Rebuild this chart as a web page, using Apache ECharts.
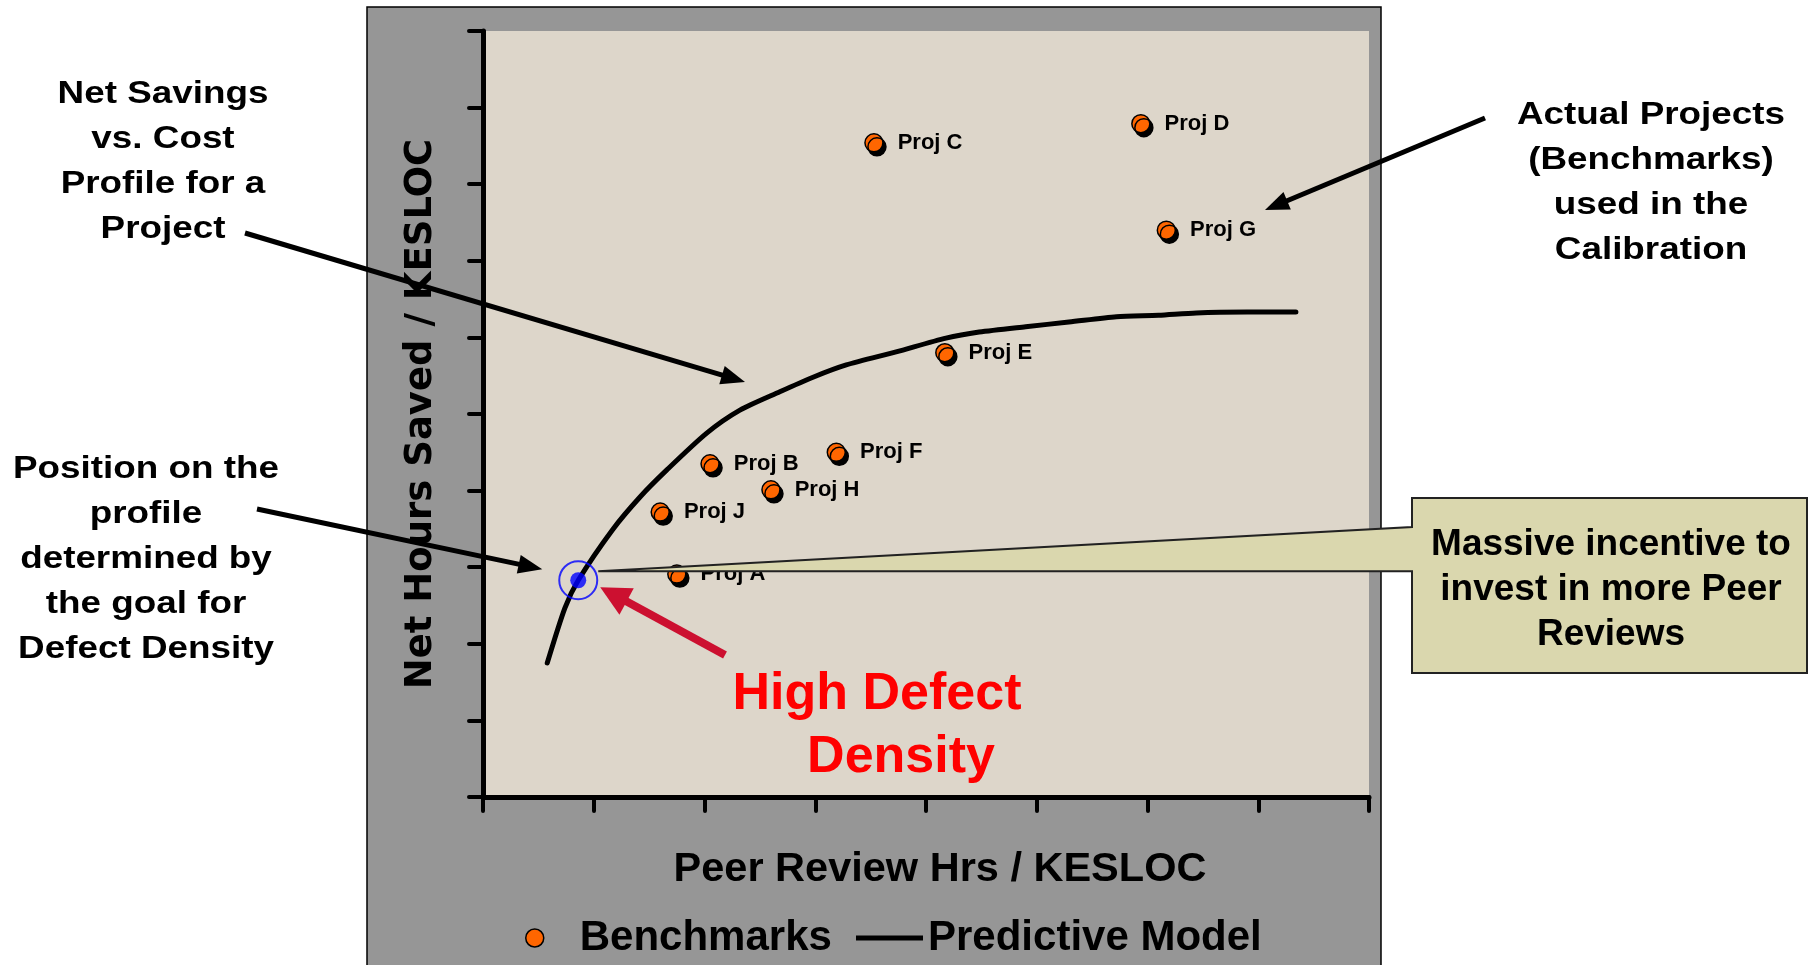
<!DOCTYPE html>
<html>
<head>
<meta charset="utf-8">
<title>Net Savings vs. Cost Profile</title>
<script src="https://cdn.jsdelivr.net/npm/echarts@6/dist/echarts.min.js"></script>
<style>
  html, body { margin: 0; padding: 0; background: #ffffff; }
  #chart { width: 1817px; height: 965px; }
</style>
</head>
<body>
<div id="chart"></div>
<script>
// Benchmark projects: peer review effort vs. net hours saved
const projectNames   = ['Proj A', 'Proj B', 'Proj C', 'Proj D', 'Proj E', 'Proj F', 'Proj G', 'Proj H', 'Proj J'];
const projectHours   = [1.75, 2.05, 3.53, 5.94, 4.17, 3.19, 6.17, 2.60, 1.60];
const projectSavings = [2.91, 4.35, 8.54, 8.79, 5.80, 4.50, 7.40, 4.01, 3.72];

// Predictive model curve
const modelHours   = [0.58, 0.74, 0.86, 1.17, 1.42, 1.66, 2.02, 2.32, 2.68, 2.98, 3.28, 3.73, 4.18, 4.48, 4.90, 5.29, 5.72, 6.10, 6.44, 6.90, 7.34];
const modelSavings = [1.75, 2.47, 2.83, 3.49, 3.92, 4.27, 4.75, 5.05, 5.29, 5.48, 5.64, 5.81, 5.99, 6.07, 6.14, 6.20, 6.27, 6.29, 6.32, 6.33, 6.33];

// Position on the profile set by the defect density goal
const goalPoint = [0.86, 2.83];

// Axis extents (unlabelled ticks)
const xRange = [0, 8, 1];
const yRange = [0, 10, 1];

const WIDE = 'DejaVu Sans';
const ARIAL = 'Liberation Sans';

const chart = echarts.init(document.getElementById('chart'), null, { renderer: 'canvas' });

const benchmarkData = projectNames.map((n, i) => ({ name: n, value: [projectHours[i], projectSavings[i]] }));
const modelData = modelHours.map((x, i) => [x, modelSavings[i]]);

const axisCommon = {
  type: 'value',
  axisLine: { show: true, onZero: false, lineStyle: { color: '#000', width: 5, cap: 'round' } },
  axisTick: { show: true, length: 14, lineStyle: { color: '#000', width: 4, cap: 'round' } },
  axisLabel: { show: false },
  splitLine: { show: false }
};

const legendText = { fontFamily: ARIAL, fontWeight: 'bold', fontSize: 42, color: '#000' };

chart.setOption({
  animation: false,
  backgroundColor: '#ffffff',
  grid: {
    left: 483, top: 31, right: 448, bottom: 168,
    show: true, backgroundColor: '#ddd6ca', borderWidth: 0
  },
  xAxis: Object.assign({}, axisCommon, {
    min: xRange[0], max: xRange[1], interval: xRange[2],
    name: 'Peer Review Hrs / KESLOC',
    nameLocation: 'middle',
    nameGap: 52,
    nameTextStyle: { fontFamily: ARIAL, fontWeight: 'bold', fontSize: 41.5, color: '#000', padding: [0, 0, 0, 28] }
  }),
  yAxis: Object.assign({}, axisCommon, {
    min: yRange[0], max: yRange[1], interval: yRange[2],
    name: 'Net Hours Saved / KESLOC',
    nameLocation: 'middle',
    nameGap: 43,
    nameTextStyle: { fontFamily: WIDE, fontWeight: 'bold', fontSize: 37, color: '#000' }
  }),
  legend: [
    {
      data: ['Benchmarks'],
      left: 520, top: 912,
      itemWidth: 80, itemHeight: 18,
      textStyle: legendText,
      itemStyle: { shadowColor: 'transparent', borderColor: '#000', borderWidth: 1.5 },
      selectedMode: false
    },
    {
      data: [{ name: 'Predictive Model', icon: 'rect' }],
      left: 851, top: 912,
      itemWidth: 67, itemHeight: 5,
      itemStyle: { color: '#000', borderWidth: 0 },
      textStyle: legendText,
      selectedMode: false
    }
  ],
  series: [
    {
      name: 'Predictive Model',
      type: 'line',
      data: modelData,
      symbol: 'none',
      showSymbol: false,
      smooth: 0.25,
      itemStyle: { color: '#000' },
      lineStyle: { color: '#000', width: 5, cap: 'round', join: 'round' },
      z: 3
    },
    {
      name: 'Benchmarks',
      type: 'scatter',
      data: benchmarkData,
      symbol: 'circle',
      symbolSize: 18,
      itemStyle: {
        color: '#ff6600', borderColor: '#000', borderWidth: 1.5,
        shadowColor: '#000', shadowBlur: 0, shadowOffsetX: 3, shadowOffsetY: 4, opacity: 1
      },
      label: {
        show: true, position: 'right', distance: 14,
        formatter: p => p.name,
        fontFamily: ARIAL, fontWeight: 'bold', fontSize: 22, color: '#000'
      },
      z: 4
    },
    {
      name: 'Goal ring',
      type: 'scatter',
      data: [goalPoint],
      symbol: 'circle',
      symbolSize: 38,
      itemStyle: { color: 'rgba(0,0,0,0)', borderColor: '#0000ff', borderWidth: 2 },
      z: 12
    },
    {
      name: 'Goal',
      type: 'scatter',
      data: [goalPoint],
      symbol: 'circle',
      symbolSize: 16,
      itemStyle: { color: '#0000ff' },
      z: 12
    }
  ]
});

// Straight arrow with a filled triangular head ending at (x2, y2)
function arrow(x1, y1, x2, y2, width, color, headLen, headW, z) {
  const dx = x2 - x1, dy = y2 - y1;
  const len = Math.sqrt(dx * dx + dy * dy);
  const ux = dx / len, uy = dy / len;
  const bx = x2 - ux * headLen, by = y2 - uy * headLen;
  const px = -uy * headW / 2, py = ux * headW / 2;
  return [
    {
      type: 'line', z: z, silent: true,
      shape: { x1: x1, y1: y1, x2: bx + ux * 2, y2: by + uy * 2 },
      style: { stroke: color, lineWidth: width, lineCap: 'butt' }
    },
    {
      type: 'polygon', z: z, silent: true,
      shape: { points: [[x2, y2], [bx + px, by + py], [bx - px, by - py]] },
      style: { fill: color }
    }
  ];
}

// Centred multi-line bold text, optionally stretched horizontally
function textBlock(text, x, y, size, color, lineHeight, stretch) {
  return {
    type: 'text', z: 20, silent: true,
    x: x, y: y, scaleX: stretch || 1,
    style: {
      text: text, x: 0, y: 0,
      fontFamily: ARIAL, fontWeight: 'bold', fontSize: size,
      fill: color, align: 'center', verticalAlign: 'middle',
      lineHeight: lineHeight
    }
  };
}

const goalPx = chart.convertToPixel({ gridIndex: 0 }, goalPoint);
const gx = goalPx[0], gy = goalPx[1];

// Callout box
const box = { x: 1412, y: 498, w: 395, h: 175 };
const calloutPts = [
  [box.x, box.y], [box.x + box.w, box.y], [box.x + box.w, box.y + box.h], [box.x, box.y + box.h],
  [box.x, gy - 9], [gx + 20, gy - 9], [box.x, 527]
];

const graphics = [
  // grey chart panel behind the plot area
  {
    type: 'rect', z: -10, silent: true,
    shape: { x: 367, y: 7, width: 1014, height: 980 },
    style: { fill: '#969696', stroke: '#000', lineWidth: 1.5 }
  },
  {
    type: 'polygon', z: 10, silent: true,
    shape: { points: calloutPts },
    style: { fill: '#dad7ae', stroke: '#222', lineWidth: 2, lineJoin: 'miter' }
  },
  textBlock('Massive incentive to\ninvest in more Peer\nReviews', 1611, 590, 37, '#000', 45, 1),

  textBlock('Net Savings\nvs. Cost\nProfile for a\nProject', 163, 162, 30.7, '#000', 45, 1.2),
  textBlock('Position on the\nprofile\ndetermined by\nthe goal for\nDefect Density', 146, 560, 30.7, '#000', 45, 1.2),
  textBlock('Actual Projects\n(Benchmarks)\nused in the\nCalibration', 1651, 183, 30.7, '#000', 45, 1.2),

  textBlock('High Defect', 877, 695, 52, '#ff0000', 62, 1),
  textBlock('Density', 901, 758, 52, '#ff0000', 62, 1)
]
  .concat(arrow(245, 233, 745, 382, 5, '#000', 24, 19, 15))
  .concat(arrow(257, 509, gx - 36, gy - 11, 5, '#000', 24, 19, 15))
  .concat(arrow(1485, 118, 1265, 210, 5, '#000', 24, 19, 15))
  .concat(arrow(725, 655, gx + 22, gy + 7, 8, '#cc1030', 30, 30, 15));

chart.setOption({ graphic: graphics });
</script>
</body>
</html>
